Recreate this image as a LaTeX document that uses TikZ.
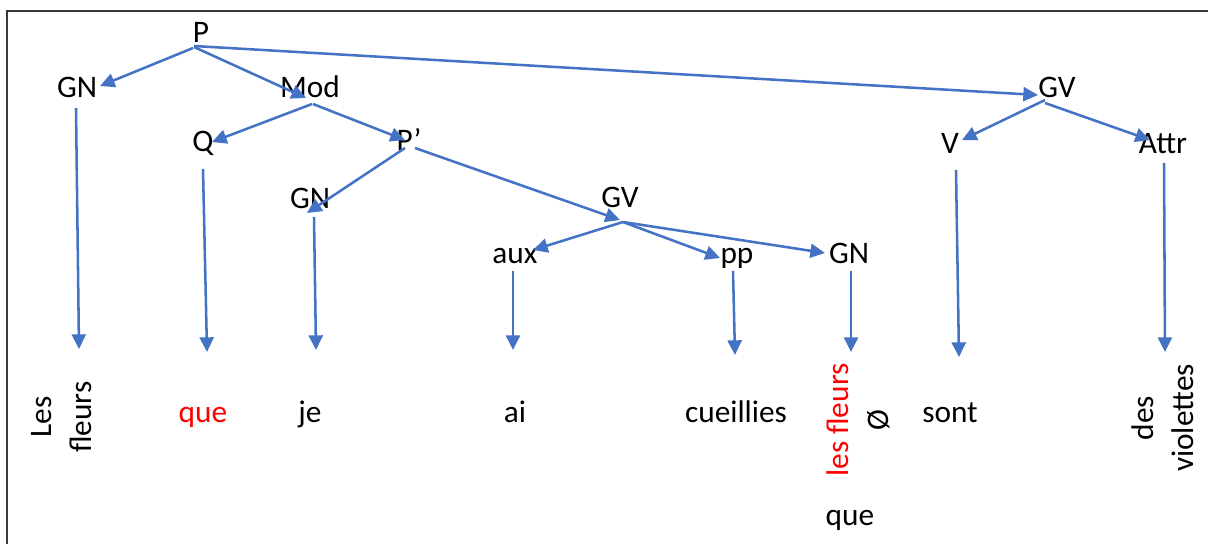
\documentclass[tikz,border=0pt]{standalone}
\usepackage{fontspec}
\setmainfont{Carlito}
\usetikzlibrary{arrows.meta}
\definecolor{lblue}{HTML}{4472C4}
\definecolor{lred}{HTML}{FF0000}
\definecolor{framegray}{HTML}{3A3A3A}
\begin{document}
\begin{tikzpicture}[x=0.75pt,y=-0.75pt,
  lab/.style={inner sep=0pt, font=\fontsize{23.5}{30}\selectfont, anchor=base},
  leaf/.style={inner sep=0pt, font=\fontsize{23.5}{30}\selectfont, rotate=90, align=center},
  arr/.style={draw=lblue, line width=1.9pt, -{Triangle[length=11pt,width=10.5pt]}},
  frameline/.style={draw=framegray, line width=1.6pt}
]
\useasboundingbox (0,0) rectangle (1208,544);
\coordinate (fTL) at (7,11);
\coordinate (fTR) at (1208,11);
\coordinate (fBL) at (7,544);
\draw[frameline] (fTR) -- (fTL) -- (fBL);

% category nodes
\node[lab] (P)    at (201,42)  {P};
\node[lab] (GNa)  at (77,97)   {GN};
\node[lab] (Mod)  at (310,97)  {Mod};
\node[lab] (GVa)  at (1057,97) {GV};
\node[lab] (Q)    at (203,151) {Q};
\node[lab] (Pp)   at (409,150) {P’};
\node[lab] (V)    at (950,153) {V};
\node[lab] (Attr) at (1163,153){Attr};
\node[lab] (GNb)  at (310,208) {GN};
\node[lab] (GVb)  at (620,207) {GV};
\node[lab] (aux)  at (515,263) {aux};
\node[lab] (pp)   at (737,263) {pp};
\node[lab] (GNc)  at (849,263) {GN};

% words
\node[leaf] (wLes)  at (62,417)   {Les\\fleurs};
\node[lab, text=lred] (wque) at (203,422) {que};
\node[lab] (wje)   at (310,422)  {je};
\node[lab] (wai)   at (515,422)  {ai};
\node[lab] (wcue)  at (736,422)  {cueillies};
\node[leaf] (wlesf) at (858,420) {\textcolor{lred}{les fleurs}\\Ø};
\node[lab] (wque2) at (850,525)  {que};
\node[lab] (wsont) at (950,422)  {sont};
\node[leaf] (wdes)  at (1163,418) {des\\violettes};

% tree arrows
\draw[arr] ([shift={(-8,6)}]P.base) -- ([shift={(23,-11)}]GNa.base);
\draw[arr] ([shift={(-7,5)}]P.base) -- ([shift={(-4,1)}]Mod.base);
\draw[arr] ([shift={(-7,4)}]P.base) -- ([shift={(-19,-2)}]GVa.base);
\draw[arr] ([shift={(2,7)}]Mod.base) -- ([shift={(9,-9)}]Q.base);
\draw[arr] ([shift={(3,7)}]Mod.base) -- ([shift={(-4,-10)}]Pp.base);
\draw[arr] ([shift={(-4,-2)}]Pp.base) -- ([shift={(-3,5)}]GNb.base);
\draw[arr] ([shift={(6,-2)}]Pp.base) -- ([shift={(0,13)}]GVb.base);
\draw[arr] ([shift={(3,15)}]GVb.base) -- ([shift={(18,-13)}]aux.base);
\draw[arr] ([shift={(3,15)}]GVb.base) -- ([shift={(-17,-5)}]pp.base);
\draw[arr] ([shift={(3,15)}]GVb.base) -- ([shift={(-24,-10)}]GNc.base);
\draw[arr] ([shift={(-12,3)}]GVa.base) -- ([shift={(12,-13)}]V.base);
\draw[arr] ([shift={(-12,6)}]GVa.base) -- ([shift={(-13,-13)}]Attr.base);

% vertical arrows to words
\draw[arr] ([shift={(-1,11)}]GNa.base) -- ([shift={(17,-68)}]wLes.center);
\draw[arr] ([shift={(0,18)}]Q.base) -- ([shift={(4,-70)}]wque.base);
\draw[arr] ([shift={(4,9)}]GNb.base) -- ([shift={(6,-72)}]wje.base);
\draw[arr] ([shift={(-2,8)}]aux.base) -- ([shift={(-2,-72)}]wai.base);
\draw[arr] ([shift={(-4,8)}]pp.base) -- ([shift={(-1,-67)}]wcue.base);
\draw[arr] ([shift={(2,8)}]GNc.base) -- ([shift={(-7,-68)}]wlesf.center);
\draw[arr] ([shift={(6,17)}]V.base) -- ([shift={(9,-65)}]wsont.base);
\draw[arr] ([shift={(1,10)}]Attr.base) -- ([shift={(2,-66)}]wdes.center);
\end{tikzpicture}
\end{document}
